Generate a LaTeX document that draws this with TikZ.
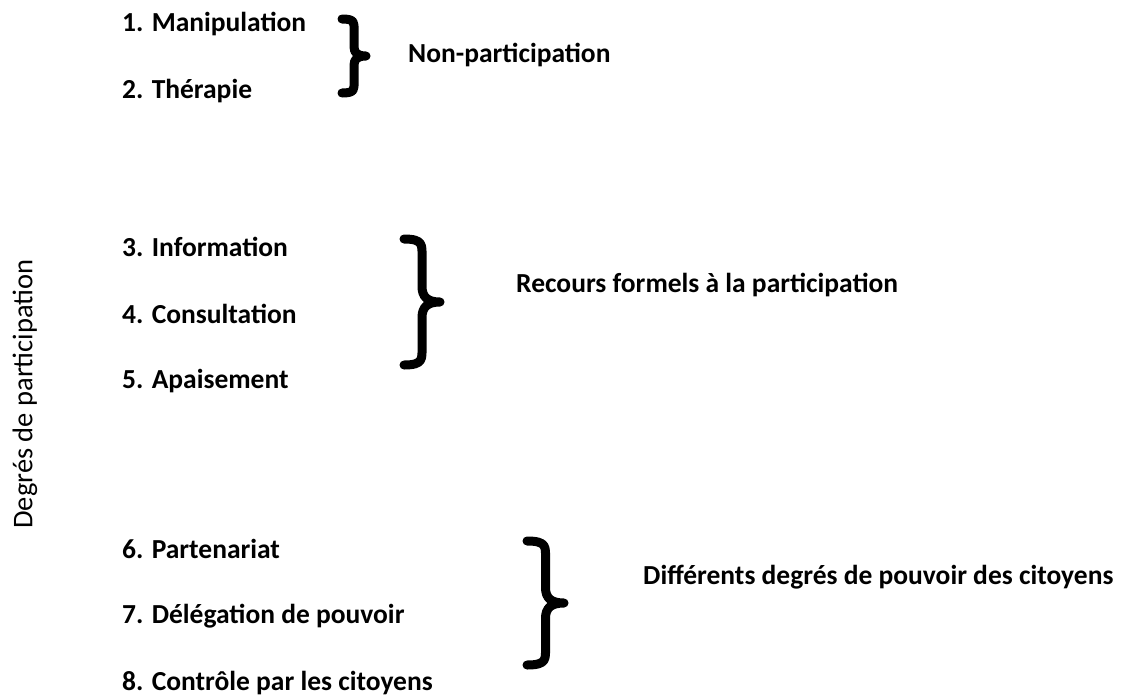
\documentclass[tikz,border=0pt]{standalone}
\usepackage{fontspec}
\setmainfont{Carlito}
\begin{document}
\begin{tikzpicture}[x=1pt,y=-1pt,
	item/.style={anchor=west,inner sep=0pt,font=\fontsize{27.5}{32}\selectfont\bfseries},
	axislabel/.style={anchor=center,inner sep=0pt,rotate=90,font=\fontsize{28.5}{32}\selectfont},
	bracestroke/.style={line width=9pt,line cap=round,line join=round}]
	\useasboundingbox (0,0) rectangle (1125,697);
	\foreach \n/\y/\t in {1/24/Manipulation,2/91/Thérapie,3/247/Information,4/314/Consultation,5/381/Apaisement,6/549/Partenariat,7/616/Délégation de pouvoir,8/683/Contrôle par les citoyens}{
	\node[item] (i\n) at (122,\y) {\n. \t};
	}
	\node[item] (nonpart) at (408,55) {Non-participation};
	\node[item] (formel) at (516,285) {Recours formels à la participation};
	\node[item] (pouvoir) at (643,577) {Différents degrés de pouvoir des citoyens};
	\node[axislabel] (degres) at (25,394) {Degrés de participation};
	% accolades
	\foreach \x/\y/\w/\h in {342/56/24/37,404/302/36/63,527/603/37/62}{
	\begin{scope}[shift={(\x,\y)},xscale=\w,yscale=\h]
	\draw[bracestroke] (0,-1) .. controls (0.55,-1) and (0.5,-0.9) .. (0.5,-0.7) -- (0.5,-0.25)
	.. controls (0.5,-0.08) and (0.65,0) .. (1,0) .. controls (0.65,0) and (0.5,0.08) .. (0.5,0.25)
	-- (0.5,0.7) .. controls (0.5,0.9) and (0.55,1) .. (0,1);
	\end{scope}
	}
\end{tikzpicture}
\end{document}
